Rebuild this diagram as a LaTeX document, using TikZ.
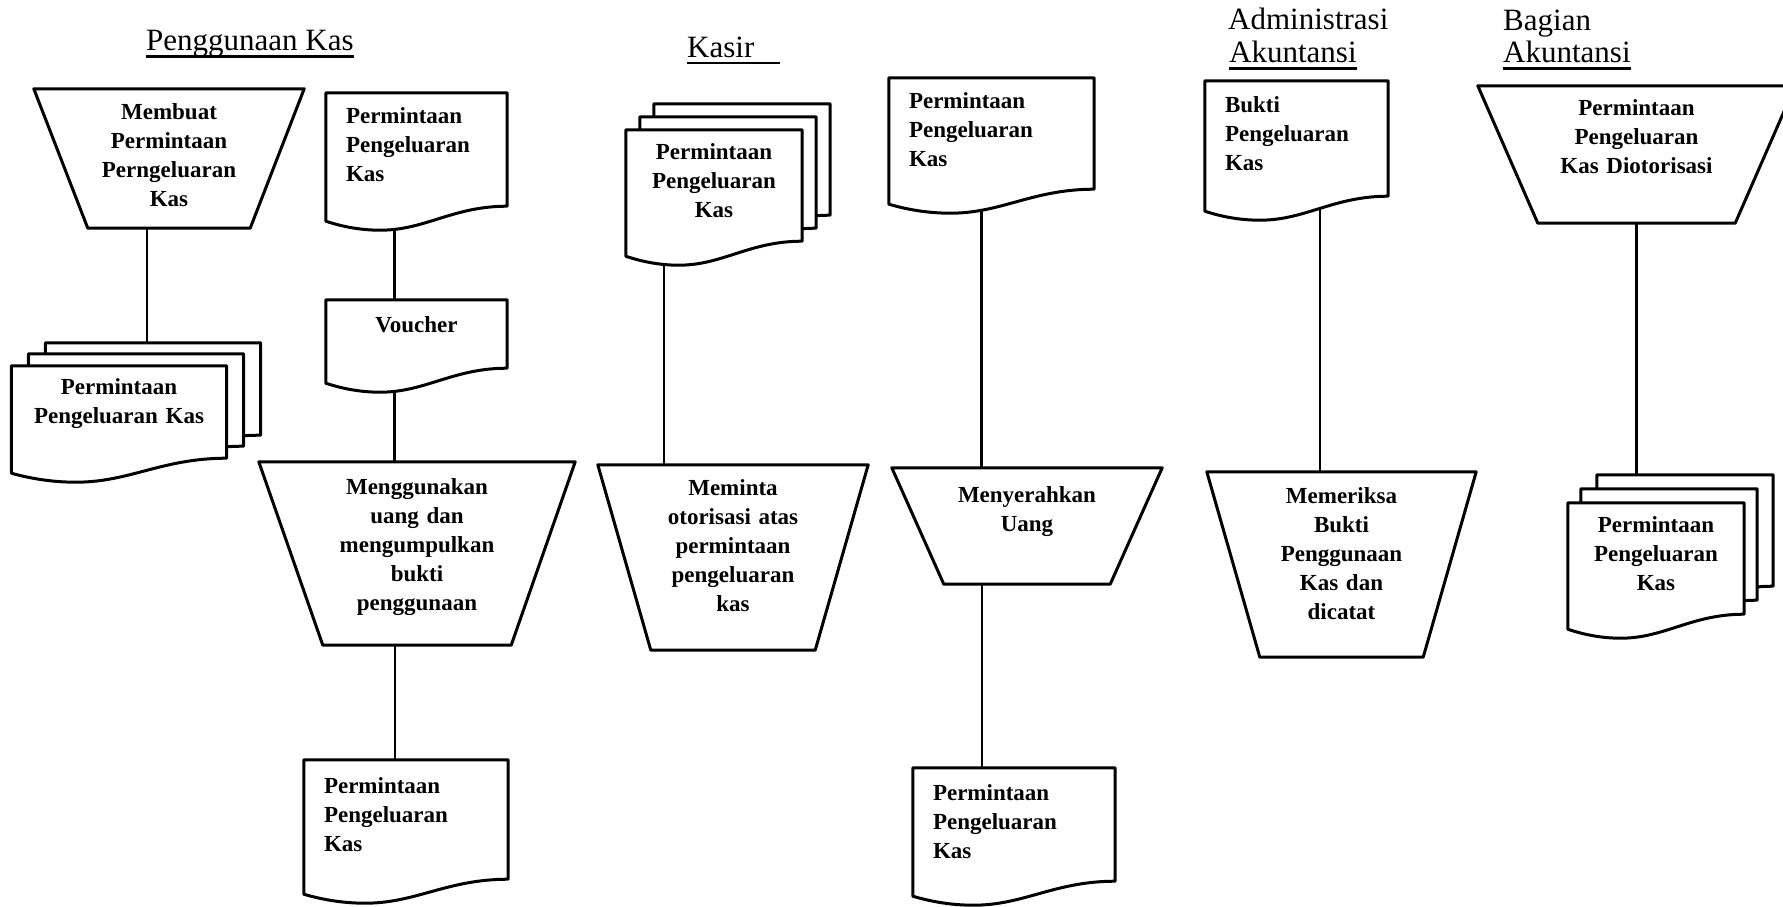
\documentclass[tikz,border=0pt]{standalone}
\usepackage{fontspec}
\setmainfont{Liberation Serif}
\usetikzlibrary{calc,backgrounds}

% simbol dokumen (bawah bergelombang)
\newcommand{\dokumen}[1]{%
  \draw[garisbentuk] (#1.north west) -- (#1.north east) -- ([yshift=24pt]#1.south east)
    .. controls ($(#1.south west)!0.7!(#1.south east)+(0,24pt)$) and ($(#1.south west)!0.55!(#1.south east)$) .. ($(#1.south west)!0.3!(#1.south east)$)
    .. controls ($(#1.south west)!0.2!(#1.south east)$) and ($(#1.south west)!0.1!(#1.south east)+(0,3pt)$) .. ([yshift=9pt]#1.south west) -- cycle;}
% simbol proses manual (trapesium)
\newcommand{\manual}[2]{%
  \draw[garisbentuk] (#1.north west) -- (#1.north east) -- ([xshift=-#2]#1.south east) -- ([xshift=#2]#1.south west) -- cycle;}

\begin{document}
\begin{tikzpicture}[x=1pt, y=-1pt,
    garisbentuk/.style={line width=3pt, fill=white, line join=round},
    garis/.style={line width=2.5pt},
    garisbawah/.style={line width=2.5pt},
    judul/.style={anchor=base west, inner sep=0pt, font=\fontsize{31}{36}\selectfont},
    proses/.style={minimum width=#1, inner sep=0pt, text width=170pt, align=center, font=\bfseries\fontsize{23}{29}\selectfont},
    dok/.style={minimum width=#1, text width=#1-40pt, inner xsep=20pt, inner ysep=0pt, align=left, font=\bfseries\fontsize{23}{29}\selectfont},
    lembar/.style={minimum width=#1, inner sep=0pt}]
        \useasboundingbox (0,0) rectangle (1783,907);

        % Judul
        \node[judul] (judulPK) at (146,51) {Penggunaan Kas};
        \node[judul] (judulKasir) at (687,57.5) {Kasir};
        \node[judul] (judulAdm) at (1228,30) {Administrasi};
        \node[judul] (judulAdmAk) at (1229,63) {Akuntansi};
        \node[judul] (judulBag) at (1503,31) {Bagian};
        \node[judul] (judulBagAk) at (1503,63) {Akuntansi};
        \draw[garisbawah] ([yshift=-5.5pt]judulPK.base west) -- ([yshift=-5.5pt]judulPK.base east);
        \draw[garisbawah] ([yshift=-5.5pt]judulKasir.base west) -- ([xshift=25pt,yshift=-5.5pt]judulKasir.base east);
        \draw[garisbawah] ([yshift=-5.5pt]judulAdmAk.base west) -- ([yshift=-5.5pt]judulAdmAk.base east);
        \draw[garisbawah] ([yshift=-5.5pt]judulBagAk.base west) -- ([yshift=-5.5pt]judulBagAk.base east);

        % Penggunaan Kas
        \node[proses=270pt, minimum height=139pt, text depth=93pt] (membuat) at (169,158.5) {Membuat\\Permintaan\\Perngeluaran\\Kas};
        \node[dok=181pt, minimum height=137pt, text depth=92pt] (ppkUser) at (416.5,161.5) {Permintaan\\Pengeluaran\\Kas};
        \node[dok=181pt, minimum height=92pt, text depth=42pt, align=center] (voucher) at (416.5,346) {Voucher};
        \node[proses=316pt, minimum height=183pt, text depth=133pt] (menggunakan) at (417,553.5) {Menggunakan\\uang dan\\mengumpulkan\\bukti\\penggunaan};
        \node[dok=204pt, minimum height=143pt, text depth=91pt] (ppkUserOut) at (406,831.5) {Permintaan\\Pengeluaran\\Kas};
        \node[lembar=215pt, minimum height=116pt] (arsipUserB) at (153,401) {};
        \node[lembar=215pt, minimum height=116pt] (arsipUserM) at (136,412) {};
        \node[dok=215pt, minimum height=116pt, text depth=75pt, align=center] (arsipUser) at (119,424) {Permintaan\\Pengeluaran Kas};

        % Kasir
        \node[lembar=176pt, minimum height=135pt] (arsipKasirB) at (742,171.5) {};
        \node[lembar=176pt, minimum height=135pt] (arsipKasirM) at (728,184.5) {};
        \node[dok=176pt, minimum height=135pt, text depth=91pt, align=center] (arsipKasir) at (714,197.5) {Permintaan\\Pengeluaran\\Kas};
        \node[proses=270pt, minimum height=185pt, text depth=140pt] (meminta) at (733,557.5) {Meminta\\otorisasi atas\\permintaan\\pengeluaran\\kas};
        \node[dok=205pt, minimum height=135pt, text depth=89pt] (ppkKasir) at (991.5,145.5) {Permintaan\\Pengeluaran\\Kas};
        \node[proses=270pt, minimum height=116pt, text depth=63pt] (menyerahkan) at (1027,526) {Menyerahkan\\Uang};
        \node[dok=202pt, minimum height=137pt, text depth=87pt] (ppkKasirOut) at (1014,836.5) {Permintaan\\Pengeluaran\\Kas};

        % Administrasi Akuntansi
        \node[dok=183pt, minimum height=139pt, text depth=91pt] (bukti) at (1296.5,150.5) {Bukti\\Pengeluaran\\Kas};
        \node[proses=269pt, minimum height=185pt, text depth=137pt] (memeriksa) at (1341.5,564.5) {Memeriksa\\Bukti\\Penggunaan\\Kas dan\\dicatat};

        % Bagian Akuntansi
        \node[proses=317pt, minimum height=137pt, text depth=93pt] (otorisasi) at (1636.5,154.5) {Permintaan\\Pengeluaran\\Kas Diotorisasi};
        \node[lembar=176pt, minimum height=135pt] (arsipAktB) at (1685,542.5) {};
        \node[lembar=176pt, minimum height=135pt] (arsipAktM) at (1669,556.5) {};
        \node[dok=176pt, minimum height=135pt, text depth=91pt, align=center] (arsipAkt) at (1656,570.5) {Permintaan\\Pengeluaran\\Kas};

        \begin{scope}[on background layer]
        % Garis
        \draw[garis] ([xshift=-22pt]membuat.center) -- ([xshift=-22pt]membuat.center |- arsipUserB.center);
        \draw[garis] ([xshift=-22pt]ppkUser.center) -- ([xshift=-22pt]ppkUser.center |- voucher.center);
        \draw[garis] ([xshift=-22pt]voucher.center) -- ([xshift=-22pt]voucher.center |- menggunakan.center);
        \draw[garis] ([xshift=-22pt]menggunakan.center) -- ([xshift=-22pt]menggunakan.center |- ppkUserOut.center);
        \draw[garis] ([xshift=-50pt]arsipKasir.center) -- ([xshift=-50pt]arsipKasir.center |- meminta.center);
        \draw[garis] ([xshift=-10pt]ppkKasir.center) -- ([xshift=-10pt]ppkKasir.center |- menyerahkan.center);
        \draw[garis] ([xshift=-45pt]menyerahkan.center) -- ([xshift=-45pt]menyerahkan.center |- ppkKasirOut.center);
        \draw[garis] ([xshift=23.5pt]bukti.center) -- ([xshift=23.5pt]bukti.center |- memeriksa.center);
        \draw[garis] (otorisasi.center) -- (otorisasi.center |- arsipAktB.center);

        % Bentuk
        \manual{membuat}{54pt}
        \dokumen{ppkUser}
        \dokumen{voucher}
        \manual{menggunakan}{64pt}
        \dokumen{ppkUserOut}
        \dokumen{arsipUserB}
        \dokumen{arsipUserM}
        \dokumen{arsipUser}
        \dokumen{arsipKasirB}
        \dokumen{arsipKasirM}
        \dokumen{arsipKasir}
        \manual{meminta}{53pt}
        \dokumen{ppkKasir}
        \manual{menyerahkan}{52pt}
        \dokumen{ppkKasirOut}
        \dokumen{bukti}
        \manual{memeriksa}{53pt}
        \manual{otorisasi}{60pt}
        \dokumen{arsipAktB}
        \dokumen{arsipAktM}
        \dokumen{arsipAkt}
        \end{scope}
    \end{tikzpicture}
\end{document}
